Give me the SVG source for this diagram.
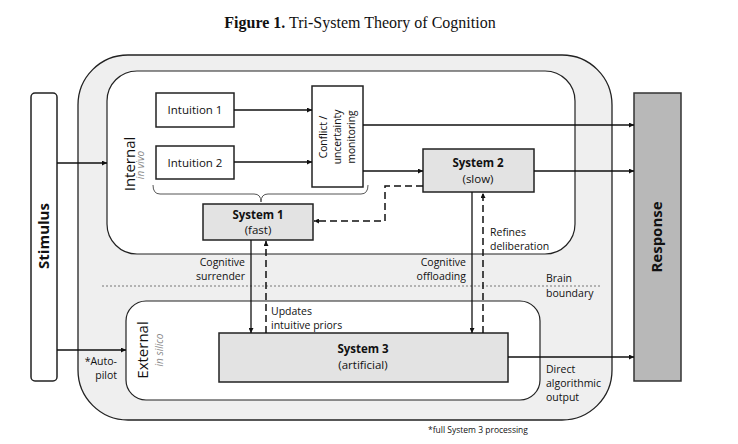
<svg xmlns="http://www.w3.org/2000/svg" width="738" height="444" viewBox="0 0 738 444">
<defs>
<marker id="ah" viewBox="0 0 10 10" refX="10" refY="5" markerWidth="5" markerHeight="5" markerUnits="userSpaceOnUse" orient="auto">
<path d="M0,0 L10,5 L0,10 z" fill="#111"/>
</marker>
</defs>
<style>
text{font-family:"Open Sans","DejaVu Sans",sans-serif;fill:#111}
.box{stroke:#222;stroke-width:1.5}
.w{fill:#fff}
.g{fill:#e3e3e3}
.t{font-size:11.5px;text-anchor:middle}
.tb{font-size:11.5px;text-anchor:middle;font-weight:bold}
.lab{font-size:10.5px}
.big{font-size:15px;font-weight:bold;text-anchor:middle}
.zone{font-size:15px;text-anchor:middle}
.sub{font-size:10px;font-style:italic;fill:#888;text-anchor:middle}
.c{fill:none;stroke:#111;stroke-width:1.3}
.d{fill:none;stroke:#111;stroke-width:1.5;stroke-dasharray:7 4}
</style>
<text x="360" y="28" style="font-family:'Liberation Serif',serif;font-size:16px" text-anchor="middle"><tspan font-weight="bold">Figure 1.</tspan> Tri-System Theory of Cognition</text>

<g id="outer"><rect x="78" y="55" width="534" height="365" rx="50" ry="50" fill="#efefef" stroke="#222" stroke-width="1.3"/></g>
<g id="internal"><rect x="107" y="71" width="468" height="183" rx="30" ry="30" fill="#fff" stroke="#222" stroke-width="1.2"/>
<text class="zone" transform="translate(135,164) rotate(-90)">Internal</text>
<text class="sub" transform="translate(144,165) rotate(-90)">in vivo</text></g>
<g id="external"><rect x="126" y="301" width="414" height="99" rx="20" ry="20" fill="#fff" stroke="#222" stroke-width="1.2"/>
<text class="zone" transform="translate(148,350) rotate(-90)">External</text>
<text class="sub" transform="translate(163,350) rotate(-90)">in silico</text></g>

<g id="boundary"><line x1="102" y1="286" x2="602" y2="286" stroke="#777" stroke-width="1" stroke-dasharray="2 2"/>
<text class="lab" x="546" y="282">Brain</text><text class="lab" x="546" y="297">boundary</text></g>

<g id="stimulus"><rect class="box w" x="31" y="93" width="26" height="288" rx="4"/>
<text class="big" transform="translate(49,236) rotate(-90)">Stimulus</text></g>
<g id="response"><rect x="634" y="93" width="47" height="288" fill="#b8b8b8" stroke="#333" stroke-width="1.5"/>
<text class="big" transform="translate(662,237) rotate(-90)">Response</text></g>

<g id="intuition1"><rect class="box w" x="156" y="93" width="78" height="34"/><text class="t" x="195" y="114">Intuition 1</text></g>
<g id="intuition2"><rect class="box w" x="156" y="146" width="78" height="33"/><text class="t" x="195" y="167">Intuition 2</text></g>
<g id="conflict"><rect class="box w" x="312" y="86" width="51" height="101"/>
<text class="t" style="font-size:10.3px" transform="translate(327,137) rotate(-90)">Conflict /</text>
<text class="t" style="font-size:10.3px" transform="translate(341,137) rotate(-90)">uncertainty</text>
<text class="t" style="font-size:10.3px" transform="translate(355,137) rotate(-90)">monitoring</text></g>
<g id="brace"><path d="M153,185 Q153,194 160,194 L254,194 Q261,194 261,202 Q261,194 268,194 L361,194 Q368,194 368,185" fill="none" stroke="#555" stroke-width="1"/></g>
<g id="system1"><rect class="box g" x="203" y="204" width="110" height="36"/><text class="tb" x="258" y="219">System 1</text><text class="t" x="258" y="234">(fast)</text></g>
<g id="system2"><rect class="box g" x="423" y="149" width="111" height="43"/><text class="tb" x="478" y="167">System 2</text><text class="t" x="478" y="183">(slow)</text></g>
<g id="system3"><rect class="box g" x="219" y="333" width="289" height="49"/><text class="tb" x="363" y="353">System 3</text><text class="t" x="363" y="369">(artificial)</text></g>

<g id="connectors">
<line class="c" x1="57" y1="163" x2="107" y2="163" marker-end="url(#ah)"/>
<line class="c" x1="57" y1="350" x2="126" y2="350" marker-end="url(#ah)"/>
<line class="c" x1="234" y1="110" x2="312" y2="110" marker-end="url(#ah)"/>
<line class="c" x1="234" y1="162" x2="312" y2="162" marker-end="url(#ah)"/>
<line class="c" x1="363" y1="125" x2="634" y2="125" marker-end="url(#ah)"/>
<line class="c" x1="363" y1="171" x2="423" y2="171" marker-end="url(#ah)"/>
<line class="c" x1="534" y1="171" x2="634" y2="171" marker-end="url(#ah)"/>
<line class="c" x1="508" y1="357" x2="634" y2="357" marker-end="url(#ah)"/>
<polyline class="d" points="423,186 385,186 385,221 314,221" marker-end="url(#ah)"/>
<line class="c" x1="251" y1="240" x2="251" y2="333" marker-end="url(#ah)"/>
<line class="d" x1="266" y1="333" x2="266" y2="241" marker-end="url(#ah)"/>
<line class="c" x1="472" y1="192" x2="472" y2="333" marker-end="url(#ah)"/>
<line class="d" x1="483" y1="333" x2="483" y2="193" marker-end="url(#ah)"/>
</g>

<g id="labels">
<text class="lab" x="245" y="266" text-anchor="end">Cognitive</text><text class="lab" x="245" y="280" text-anchor="end">surrender</text>
<text class="lab" x="466" y="266" text-anchor="end">Cognitive</text><text class="lab" x="466" y="280" text-anchor="end">offloading</text>
<text class="lab" x="271" y="315">Updates</text><text class="lab" x="271" y="329">intuitive priors</text>
<text class="lab" x="490" y="236">Refines</text><text class="lab" x="490" y="250">deliberation</text>
<text class="lab" x="546" y="373">Direct</text><text class="lab" x="546" y="387">algorithmic</text><text class="lab" x="546" y="401">output</text>
<text class="lab" x="117" y="365" text-anchor="end">*Auto-</text><text class="lab" x="117" y="379" text-anchor="end">pilot</text>
<text x="478" y="433" style="font-size:8.5px" text-anchor="middle">*full System 3 processing</text>
</g>
</svg>
